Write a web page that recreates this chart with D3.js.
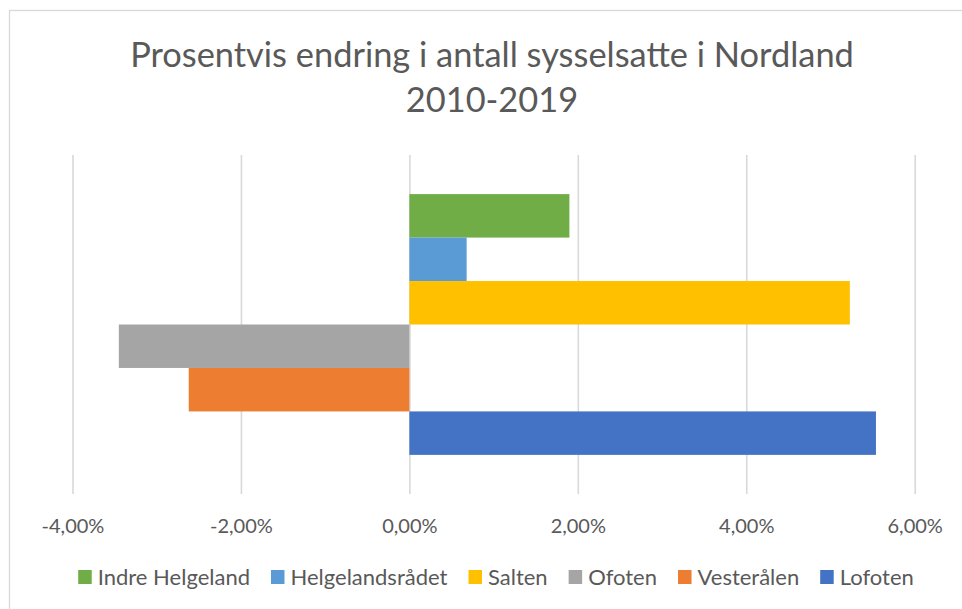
<!DOCTYPE html>
<html>
<head>
<meta charset="utf-8">
<script src="https://cdn.jsdelivr.net/npm/d3@7"></script>
<style>
  body { margin: 0; background: #fff; }
  text { font-family: Lato, "Open Sans", sans-serif; fill: #595959; }
</style>
</head>
<body>
<svg></svg>
<script>
// data
let regions = ['Indre Helgeland', 'Helgelandsrådet', 'Salten', 'Ofoten', 'Vesterålen', 'Lofoten']
let change = [0.0190, 0.0068, 0.0523, -0.0345, -0.0262, 0.0554]
let colours = ['#70AD47', '#5B9BD5', '#FFC000', '#A5A5A5', '#ED7D31', '#4472C4']
let tickValues = [-0.04, -0.02, 0, 0.02, 0.04, 0.06]
let titleLines = ['Prosentvis endring i antall sysselsatte i Nordland', '2010-2019']

let width = 962,
    height = 609;
let plot = {top: 155, bottom: 494, left: 72.5, right: 914.7}

let svg = d3.select('svg')
            .attr('width', width)
            .attr('height', height)

// chart border (runs off right/bottom edge like the screenshot)
svg.append('rect')
   .attr('x', 9.5).attr('y', 10.5)
   .attr('width', 1000).attr('height', 700)
   .attr('fill', 'none')
   .attr('stroke', '#d9d9d9')
   .attr('stroke-width', 1.3)

// title
svg.append('g').selectAll('text')
   .data(titleLines)
   .enter()
   .append('text')
   .attr('x', 492)
   .attr('y', (d, i) => 67 + i * 45)
   .attr('text-anchor', 'middle')
   .style('font-size', '34.4px')
   .text(d => d)

// scales
let xScale = d3.scaleLinear()
      .domain([-0.04, 0.06])
      .range([plot.left, plot.right])

let yScale = d3.scaleBand()
      .domain(regions)
      .range([plot.top, plot.bottom])
      .paddingInner(0)
      .paddingOuter(0.9)

let nb = d3.formatLocale({decimal: ',', thousands: ' ', grouping: [3], currency: ['', ' kr'], minus: '-'})

// gridlines + tick labels
let xAxis = d3.axisBottom()
      .scale(xScale)
      .tickValues(tickValues)
      .tickSize(-(plot.bottom - plot.top))
      .tickPadding(25)
      .tickFormat(nb.format('.2%'))

let axisG = svg.append('g')
      .attr('transform', 'translate(0,' + plot.bottom + ')')
      .call(xAxis)
axisG.select('.domain').remove()
axisG.selectAll('.tick line')
     .attr('stroke', '#d9d9d9')
     .attr('stroke-width', 1.6)
axisG.selectAll('.tick text')
     .style('font-size', '20px')
     .style('font-family', 'Lato, sans-serif')
     .attr('fill', '#595959')

// bars
let rows = regions.map((r, i) => ({name: r, value: change[i], colour: colours[i]}))

svg.append('g').selectAll('rect')
   .data(rows)
   .enter()
   .append('rect')
   .attr('x', d => xScale(Math.min(0, d.value)))
   .attr('y', d => yScale(d.name))
   .attr('width', d => Math.abs(xScale(d.value) - xScale(0)))
   .attr('height', yScale.bandwidth())
   .attr('fill', d => d.colour)

// legend
let legend = svg.append('g')
let items = legend.selectAll('g')
   .data(rows)
   .enter()
   .append('g')
items.append('rect')
     .attr('width', 13.5).attr('height', 14)
     .attr('y', -7)
     .attr('fill', d => d.colour)
items.append('text')
     .attr('x', 19.5)
     .attr('y', 7.5)
     .style('font-size', '22px')
     .text(d => d.name)

let xPos = 0
items.each(function() {
  let w = this.getBBox().width
  d3.select(this).attr('transform', 'translate(' + xPos + ',0)')
  xPos += w + 21
})
let total = xPos - 21
legend.attr('transform', 'translate(' + (496 - total / 2) + ',577)')
</script>
</body>
</html>
